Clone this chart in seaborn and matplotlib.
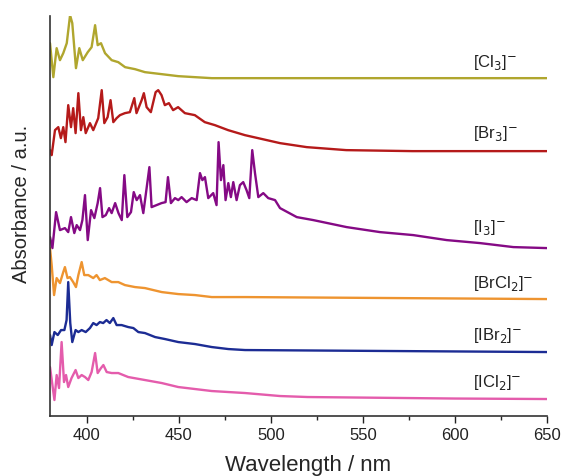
import numpy as np
import pandas as pd
import seaborn as sns
import matplotlib.pyplot as plt
from matplotlib.ticker import MultipleLocator

# spectra (stacked, arbitrary units)
cl3_x = [380.0, 381.8, 383.6, 385.4, 387.2, 389.1, 390.9, 392.1, 394.1, 395.9, 397.8, 400.5, 402.6,
         404.5, 405.9, 407.7, 409.9, 413.5, 417.1, 420.8, 426.2, 431.6, 440.7, 449.7, 467.9, 486.0, 650.0]
cl3_y = [373, 339, 368, 356, 363, 373, 401, 393, 348, 368, 356, 364, 369,
         391, 371, 373, 363, 356, 354, 349, 347, 344, 342, 340, 338, 338, 338]

br3_x = [380.0, 380.9, 382.7, 384.5, 385.9, 387.2, 388.4, 389.9, 391.4, 392.6, 393.9, 395.4, 396.8,
         398.1, 399.4, 401.7, 403.5, 406.2, 408.1, 409.5, 411.3, 412.9, 414.4, 416.2, 418.0, 420.7,
         423.4, 425.8, 427.0, 429.8, 431.0, 432.5, 434.8, 437.4, 438.8, 440.6, 442.4, 444.6, 446.9,
         449.6, 453.3, 458.7, 464.1, 469.6, 476.8, 485.9, 505.0, 519.5, 541.0, 577.0, 650.0]
br3_y = [266, 261, 286, 289, 278, 289, 274, 311, 289, 308, 283, 323, 286,
         299, 283, 293, 286, 298, 326, 293, 299, 316, 294, 298, 301, 303,
         304, 318, 303, 316, 323, 309, 304, 324, 326, 321, 311, 313, 306,
         309, 303, 301, 294, 291, 286, 281, 273, 269, 266, 265, 265]

i3_x = [380.0, 381.3, 383.3, 385.4, 388.1, 389.9, 391.4, 393.2, 394.5, 396.3, 397.6, 399.0, 400.5,
        402.3, 404.1, 405.9, 407.2, 408.5, 410.3, 412.1, 413.5, 415.4, 417.2, 419.0, 420.4, 422.0,
        424.0, 425.5, 427.1, 428.9, 430.7, 432.5, 434.0, 435.2, 437.9, 440.6, 442.8, 444.1, 445.7,
        447.9, 449.7, 451.5, 454.2, 457.0, 459.7, 461.5, 462.8, 464.2, 466.0, 468.7, 470.5, 471.6,
        472.9, 474.2, 475.4, 476.9, 478.3, 479.6, 481.4, 483.2, 485.0, 486.8, 488.3, 489.9, 491.4,
        493.2, 495.9, 498.6, 502.3, 505.0, 514.1, 523.1, 541.2, 559.3, 577.4, 595.6, 613.7, 631.8, 650.0]
i3_y = [179, 168, 204, 186, 188, 184, 199, 183, 191, 186, 196, 221, 176,
        206, 198, 213, 228, 199, 201, 208, 203, 213, 203, 196, 241, 199,
        204, 224, 216, 221, 203, 228, 249, 209, 211, 213, 214, 239, 213,
        218, 216, 219, 214, 218, 216, 243, 236, 239, 218, 223, 211, 274,
        236, 251, 216, 233, 219, 234, 216, 231, 234, 226, 218, 266, 243,
        219, 223, 218, 216, 208, 199, 196, 189, 184, 181, 176, 173, 169, 168]

brcl2_x = [380.0, 380.9, 382.2, 383.6, 385.4, 387.2, 388.1, 389.5, 390.8, 392.6, 394.1, 395.4, 397.2,
           398.6, 400.8, 403.5, 405.3, 407.1, 409.8, 413.5, 417.1, 420.7, 426.2, 431.6, 440.7, 449.7,
           458.8, 467.9, 486.0, 650.0]
brcl2_y = [168, 151, 121, 138, 133, 144, 149, 138, 139, 134, 129, 141, 154,
           141, 141, 138, 141, 136, 138, 134, 134, 131, 129, 128, 124, 122,
           121, 119, 119, 117]

ibr2_x = [380.0, 380.9, 382.4, 384.2, 386.0, 387.8, 389.0, 389.9, 391.0, 392.1, 393.9, 395.4, 397.2,
          399.4, 401.7, 403.5, 405.3, 407.1, 408.9, 410.7, 412.5, 414.4, 416.2, 418.9, 422.5, 425.3,
          428.0, 431.6, 437.1, 442.5, 449.7, 458.8, 467.9, 476.9, 486.0, 650.0]
ibr2_y = [81, 71, 84, 81, 86, 86, 96, 134, 93, 74, 86, 84, 86,
          84, 88, 93, 91, 94, 93, 96, 93, 98, 91, 91, 89, 88,
          84, 83, 79, 77, 74, 72, 69, 67, 66, 64]

icl2_x = [380.0, 381.3, 382.4, 383.6, 384.9, 386.3, 387.6, 388.7, 389.9, 391.7, 393.9, 395.4, 397.2,
          399.0, 400.8, 402.6, 404.5, 405.9, 407.7, 409.0, 410.8, 413.5, 417.1, 422.5, 431.6, 440.7,
          449.7, 458.8, 467.9, 476.9, 486.0, 505.0, 520.0, 600.0, 650.0]
icl2_y = [49, 31, 16, 41, 28, 74, 34, 41, 29, 38, 46, 38, 41,
          39, 36, 44, 63, 43, 48, 51, 44, 43, 43, 39, 36, 33,
          29, 27, 25, 24, 23, 20, 19, 17.5, 17]

names = ["[Cl$_3$]$^{-}$", "[Br$_3$]$^{-}$", "[I$_3$]$^{-}$",
         "[BrCl$_2$]$^{-}$", "[IBr$_2$]$^{-}$", "[ICl$_2$]$^{-}$"]
label_y = [354, 283, 189, 133, 81, 34]
colors = ["#b0a62e", "#b51a1a", "#850a85", "#ee9430", "#1c2c94", "#e45cac"]

series = [(cl3_x, cl3_y), (br3_x, br3_y), (i3_x, i3_y),
          (brcl2_x, brcl2_y), (ibr2_x, ibr2_y), (icl2_x, icl2_y)]
frames = []
for n, (xs, ys) in zip(names, series):
    frames.append(pd.DataFrame({"wl": xs, "abs": ys, "sample": n}))
df = pd.concat(frames, ignore_index=True)

sns.set_style("ticks")
plt.rcParams['font.family'] = ['Liberation Sans', 'DejaVu Sans']

fig = plt.figure(figsize=(5.62, 4.76), dpi=100)
ax = fig.add_axes([0.089, 0.126, 0.884, 0.840])

sns.lineplot(data=df, x="wl", y="abs", hue="sample", palette=dict(zip(names, colors)),
             sort=False, estimator=None, lw=1.7, legend=False, ax=ax)

for n, ly in zip(names, label_y):
    ax.text(610, ly, n, fontsize=12, ha="left", va="center", color="#222222")

ax.set_xlim(380, 650)
ax.set_ylim(0, 400)
ax.set_yticks([])
ax.xaxis.set_major_locator(MultipleLocator(50))
ax.xaxis.set_minor_locator(MultipleLocator(25))
ax.tick_params(axis="x", which="major", length=5, width=1, labelsize=12, colors="#222222")
ax.tick_params(axis="x", which="minor", length=3, width=1)
ax.set_xlabel("Wavelength / nm", fontsize=16)
ax.set_ylabel("Absorbance / a.u.", fontsize=14.5)
ax.xaxis.set_label_coords(0.52, -0.097)
ax.yaxis.set_label_coords(-0.038, 0.53)
sns.despine(ax=ax)
for s in ["left", "bottom"]:
    ax.spines[s].set_linewidth(1.2)
    ax.spines[s].set_color("#333333")

fig.savefig("out.png", dpi=100)
